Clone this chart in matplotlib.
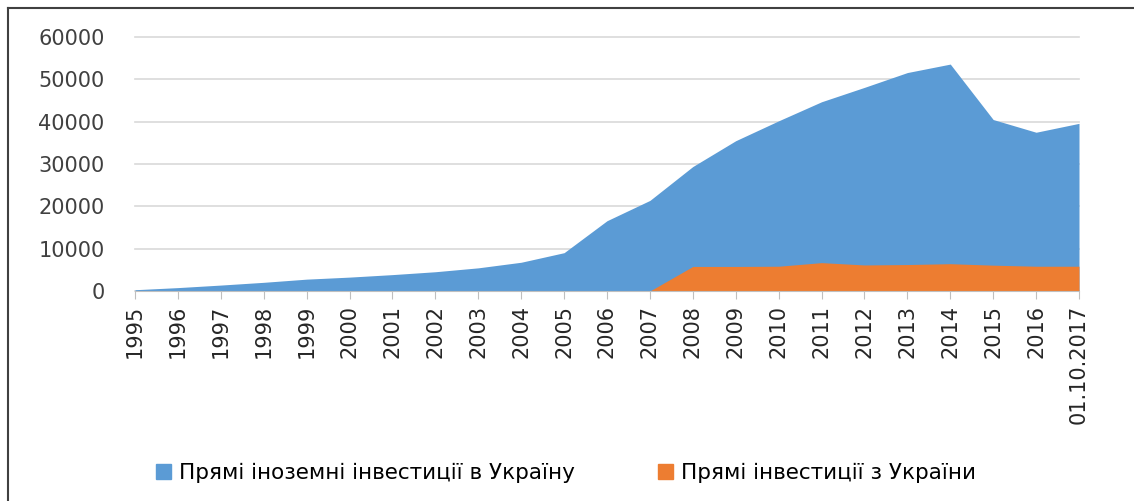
import matplotlib
matplotlib.use("Agg")
import matplotlib.pyplot as plt
from matplotlib.lines import Line2D
from matplotlib.patches import Patch

# categories and values (million USD)
years = ["1995", "1996", "1997", "1998", "1999", "2000", "2001", "2002",
         "2003", "2004", "2005", "2006", "2007", "2008", "2009", "2010",
         "2011", "2012", "2013", "2014", "2015", "2016", "01.10.2017"]
fdi_in = [300, 800, 1400, 2050, 2800, 3280, 3870, 4550, 5470, 6790, 9050,
          16600, 21400, 29400, 35500, 40200, 44700, 48100, 51600, 53600,
          40500, 37500, 39600]
# outward investment starts in 2007
out_years = years[12:]
fdi_out = [0, 5800, 5800, 5850, 6700, 6150, 6250, 6450, 6100, 5850, 5850]

blue = "#5b9bd5"
orange = "#ed7d31"
W, H = 1134, 501

fig = plt.figure(figsize=(W / 100, H / 100), dpi=100)
ax = fig.add_axes([135 / W, 1 - 291 / H, (1079 - 135) / W, (291 - 37) / H])

x = list(range(len(years)))
x_out = x[12:]
ax.fill_between(x, fdi_in, 0, color=blue, linewidth=0, zorder=2)
ax.fill_between(x_out, fdi_out, 0, color=orange, linewidth=0, zorder=3)

ax.set_xlim(0, len(years) - 1)
ax.set_ylim(0, 60000)
ax.set_yticks(range(0, 60001, 10000))
ax.set_yticklabels([str(v) for v in range(0, 60001, 10000)], fontsize=15,
                   color="#404040")
ax.set_xticks(x)
ax.set_xticklabels(years, rotation=90, fontsize=15, color="#262626")
ax.tick_params(axis="y", length=0, pad=22)
ax.tick_params(axis="x", length=6, color="#bfbfbf", pad=4)
ax.grid(axis="y", color="#d9d9d9", linewidth=1.2, zorder=0)
for gl in ax.get_ygridlines():
    gl.set_clip_on(False)
ax.set_axisbelow(True)
for side in ["top", "right", "left"]:
    ax.spines[side].set_visible(False)
ax.spines["bottom"].set_color("#bfbfbf")
ax.spines["bottom"].set_zorder(4)

handles = [Patch(facecolor=blue, edgecolor=blue),
           Patch(facecolor=orange, edgecolor=orange)]
labels = ["Прямі іноземні інвестиції в Україну", "Прямі інвестиції з України"]
fig.legend(handles, labels, loc="center", bbox_to_anchor=(566 / W, 1 - 473 / H),
           ncol=2, frameon=False, handlelength=0.7,
           handleheight=0.7, handletextpad=0.35, columnspacing=3.9,
           prop={"family": "DejaVu Sans", "size": 15.5})

# frame lines of the original picture (left and top only)
fig.add_artist(Line2D([8 / W, 8 / W], [0, 1 - 8 / H], transform=fig.transFigure,
                      color="#404040", linewidth=1.5))
fig.add_artist(Line2D([8 / W, 1], [1 - 8 / H, 1 - 8 / H], transform=fig.transFigure,
                      color="#404040", linewidth=1.5))

fig.savefig("out.png", dpi=100)
